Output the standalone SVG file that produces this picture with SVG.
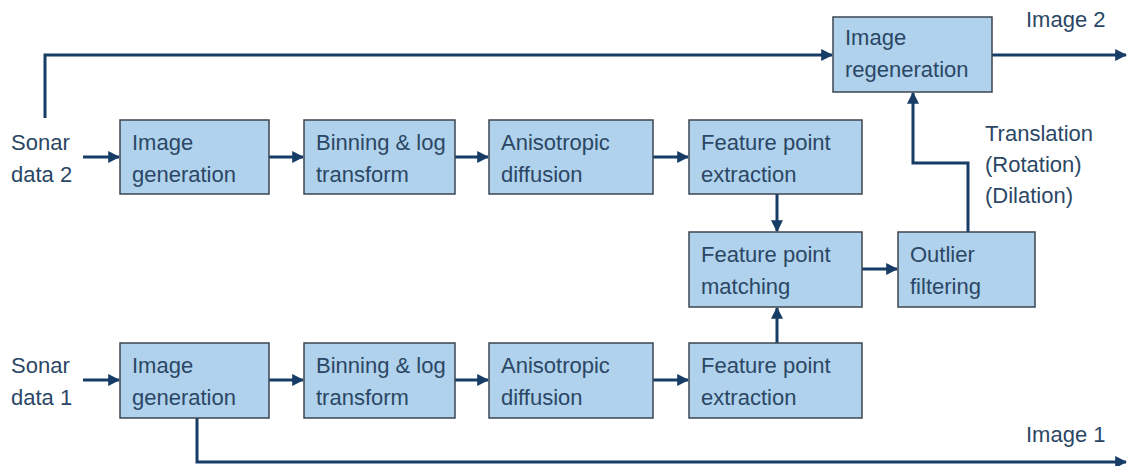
<svg xmlns="http://www.w3.org/2000/svg" width="1134" height="466" viewBox="0 0 1134 466">
<style>
.box{fill:#b0d2ec;stroke:#3c4550;stroke-width:1.5}
.t{font-family:"Liberation Sans",Arial,sans-serif;font-size:22px;fill:#2b4765}
.c{fill:none;stroke:#173c66;stroke-width:3}
</style>
<defs>
<marker id="ah" viewBox="0 0 10 10" refX="9" refY="5" markerWidth="4" markerHeight="4" orient="auto" markerUnits="strokeWidth">
<path d="M0,0 L10,5 L0,10 z" fill="#173c66"/>
</marker>
</defs>
<rect width="1134" height="466" fill="#fff"/>
<g id="connectors">
<path class="c" d="M45,118 V55 H832" marker-end="url(#ah)"/>
<path class="c" d="M992,55 H1126" marker-end="url(#ah)"/>
<path class="c" d="M83,157 H119" marker-end="url(#ah)"/>
<path class="c" d="M269,157 H303" marker-end="url(#ah)"/>
<path class="c" d="M455,157 H488" marker-end="url(#ah)"/>
<path class="c" d="M653,157 H688" marker-end="url(#ah)"/>
<path class="c" d="M83,380 H119" marker-end="url(#ah)"/>
<path class="c" d="M269,380 H303" marker-end="url(#ah)"/>
<path class="c" d="M455,380 H488" marker-end="url(#ah)"/>
<path class="c" d="M653,380 H688" marker-end="url(#ah)"/>
<path class="c" d="M777,194 V231" marker-end="url(#ah)"/>
<path class="c" d="M777,343 V308" marker-end="url(#ah)"/>
<path class="c" d="M862,269 H897" marker-end="url(#ah)"/>
<path class="c" d="M968,232 V163 H913 V93" marker-end="url(#ah)"/>
<path class="c" d="M197,418 V462 H1126" marker-end="url(#ah)"/>
</g>
<g id="sonar2"><text class="t" x="11" y="150">Sonar</text><text class="t" x="11" y="182">data 2</text></g>
<g id="sonar1"><text class="t" x="11" y="373">Sonar</text><text class="t" x="11" y="405">data 1</text></g>
<g id="imggen2"><rect class="box" x="120" y="120" width="149" height="74"/><text class="t" x="132" y="150">Image</text><text class="t" x="132" y="182">generation</text></g>
<g id="bin2"><rect class="box" x="304" y="120" width="151" height="74"/><text class="t" x="316" y="150">Binning &amp; log</text><text class="t" x="316" y="182">transform</text></g>
<g id="aniso2"><rect class="box" x="489" y="120" width="164" height="74"/><text class="t" x="501" y="150">Anisotropic</text><text class="t" x="501" y="182">diffusion</text></g>
<g id="fpe2"><rect class="box" x="689" y="120" width="173" height="74"/><text class="t" x="701" y="150">Feature point</text><text class="t" x="701" y="182">extraction</text></g>
<g id="imggen1"><rect class="box" x="120" y="343" width="149" height="75"/><text class="t" x="132" y="373">Image</text><text class="t" x="132" y="405">generation</text></g>
<g id="bin1"><rect class="box" x="304" y="343" width="151" height="75"/><text class="t" x="316" y="373">Binning &amp; log</text><text class="t" x="316" y="405">transform</text></g>
<g id="aniso1"><rect class="box" x="489" y="343" width="164" height="75"/><text class="t" x="501" y="373">Anisotropic</text><text class="t" x="501" y="405">diffusion</text></g>
<g id="fpe1"><rect class="box" x="689" y="343" width="173" height="75"/><text class="t" x="701" y="373">Feature point</text><text class="t" x="701" y="405">extraction</text></g>
<g id="fpm"><rect class="box" x="689" y="232" width="173" height="75"/><text class="t" x="701" y="262">Feature point</text><text class="t" x="701" y="294">matching</text></g>
<g id="outlier"><rect class="box" x="898" y="232" width="137" height="75"/><text class="t" x="910" y="262">Outlier</text><text class="t" x="910" y="294">filtering</text></g>
<g id="regen"><rect class="box" x="833" y="17" width="159" height="75"/><text class="t" x="845" y="45">Image</text><text class="t" x="845" y="77">regeneration</text></g>
<g id="labels">
<text class="t" x="1026" y="27">Image 2</text>
<text class="t" x="1026" y="442">Image 1</text>
<text class="t" x="985" y="141">Translation</text>
<text class="t" x="985" y="172">(Rotation)</text>
<text class="t" x="985" y="203">(Dilation)</text>
</g>
</svg>
